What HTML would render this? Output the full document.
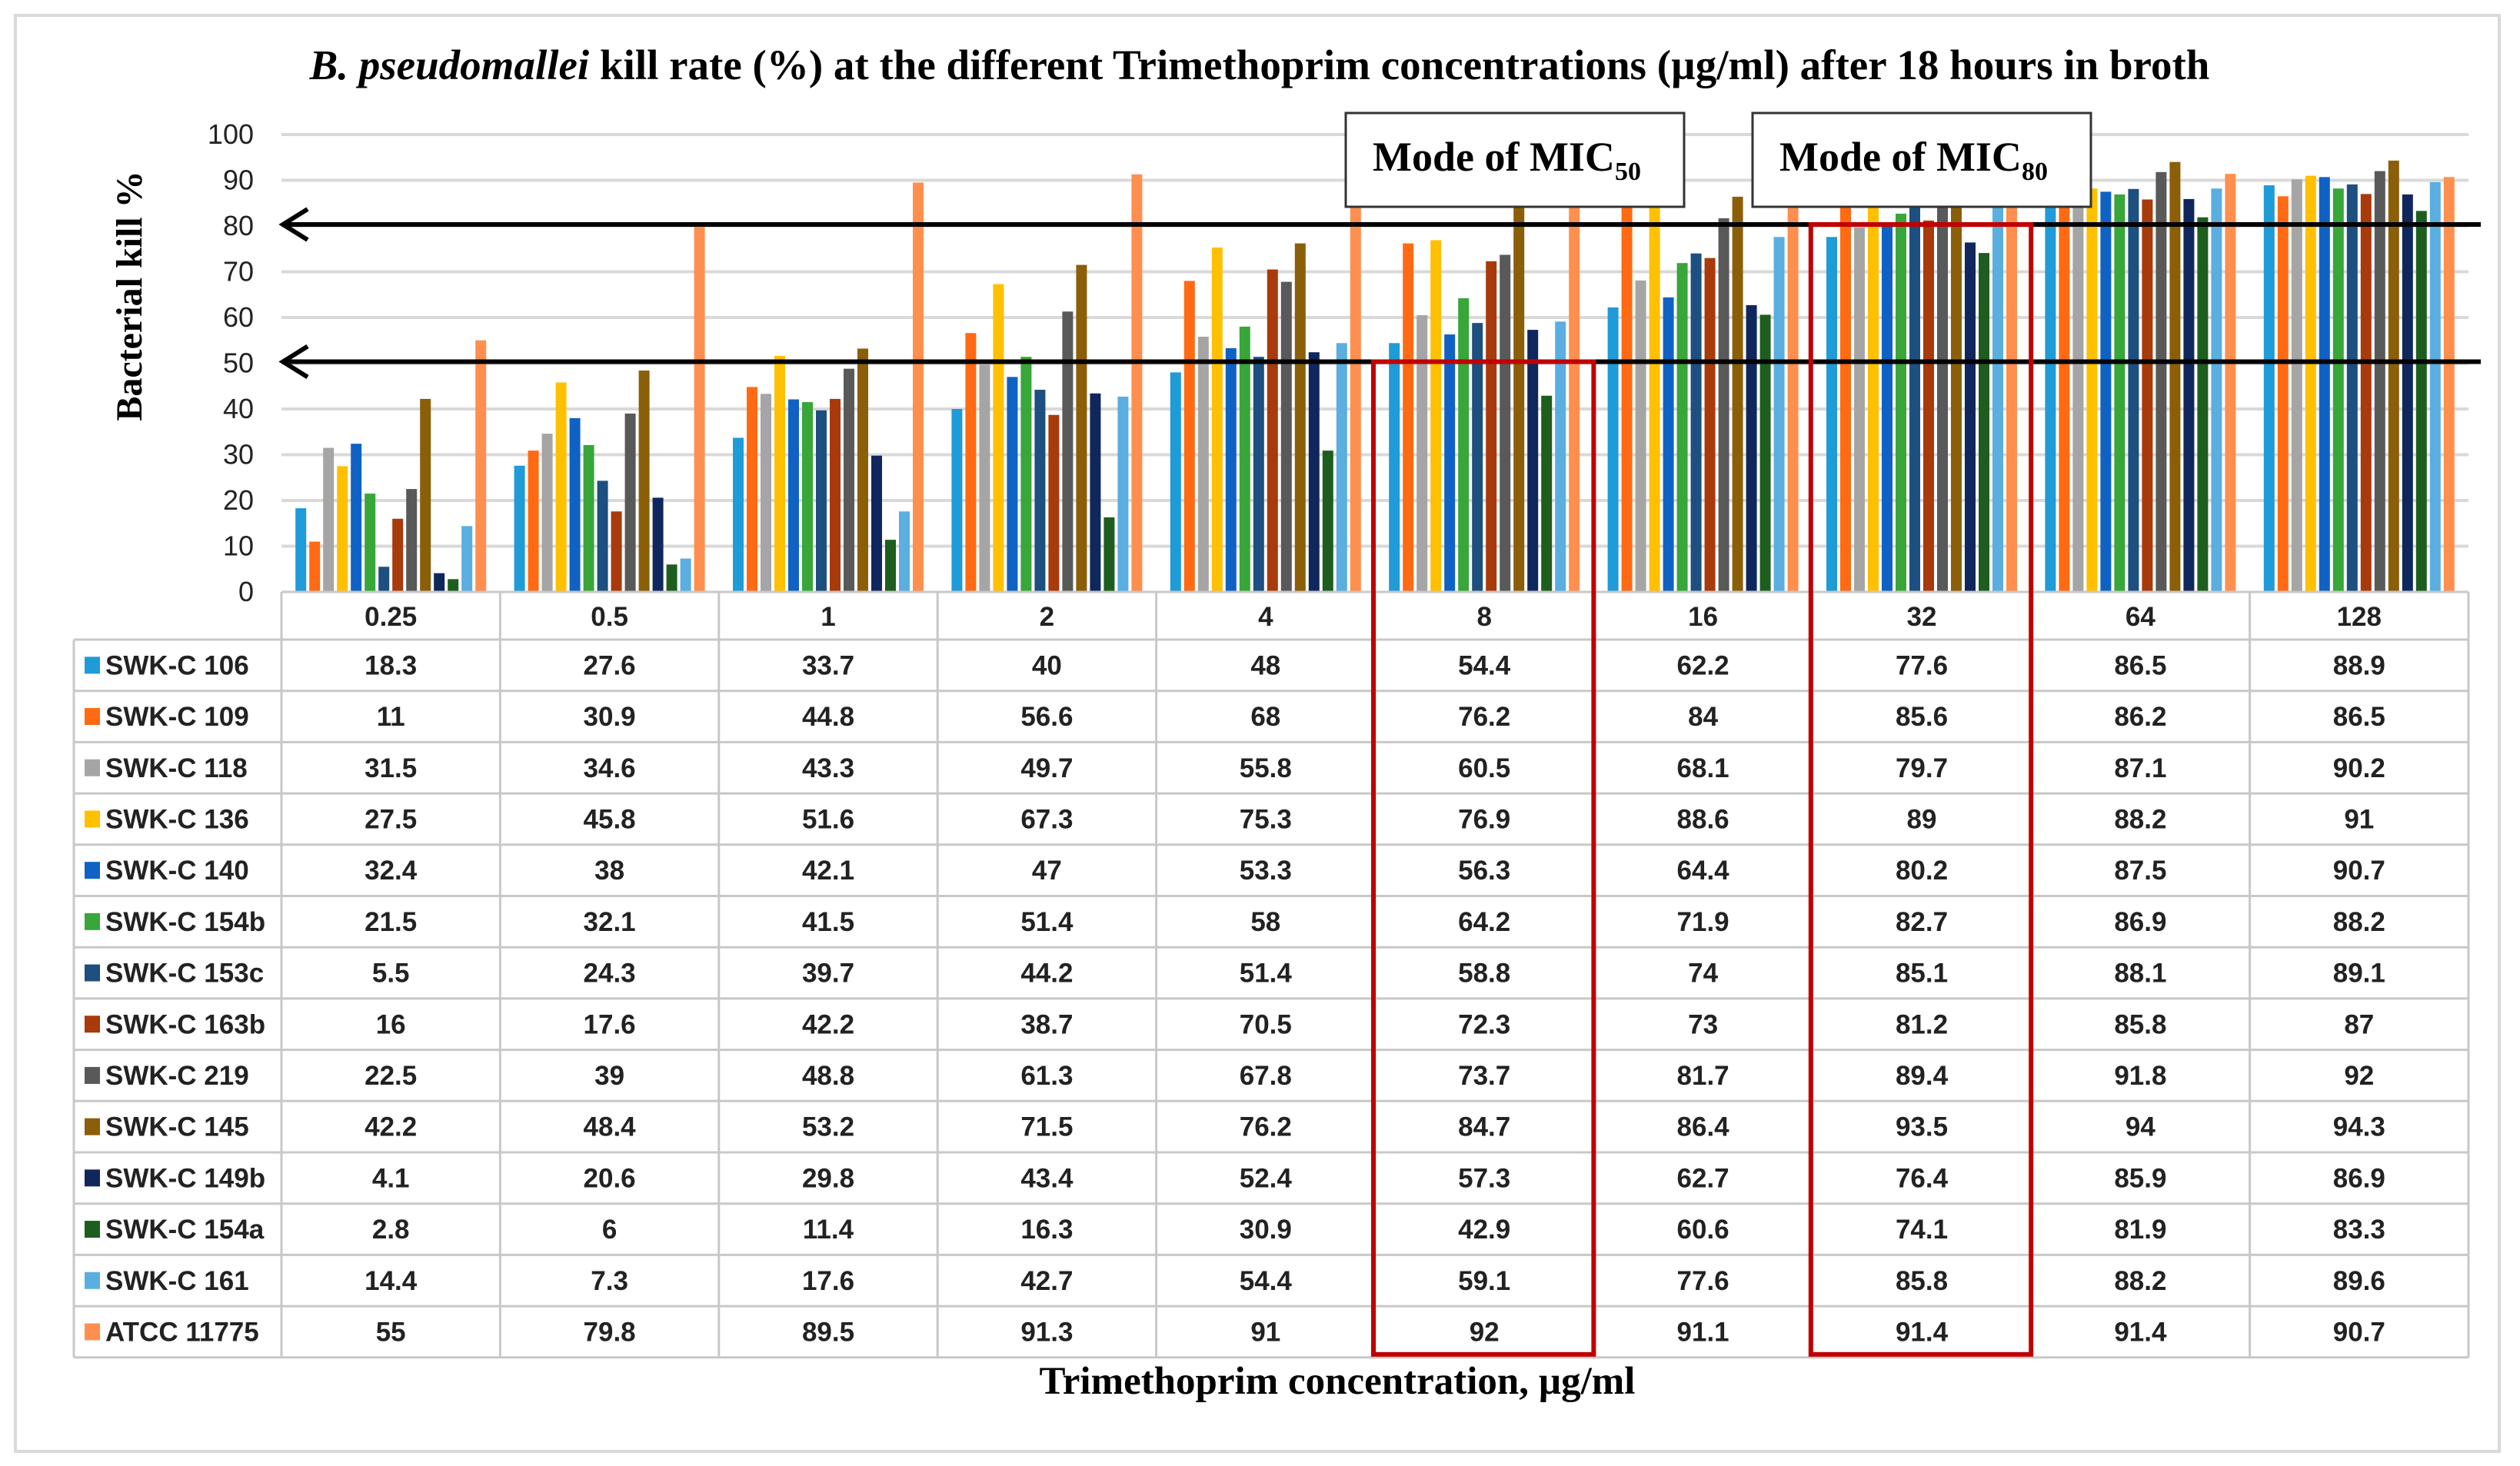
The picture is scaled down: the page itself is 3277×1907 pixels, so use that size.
<!DOCTYPE html>
<html><head><meta charset="utf-8"><style>
html,body{margin:0;padding:0;background:#fff;}
svg{display:block;}
</style></head><body>
<svg id="chart" width="3277" height="1907" viewBox="0 0 3277 1907" xmlns="http://www.w3.org/2000/svg">
<rect x="20" y="20" width="3230" height="1868" fill="#fff" stroke="#d9d9d9" stroke-width="4"/>
<text x="1638" y="103" text-anchor="middle" font-family="Liberation Serif, serif" font-weight="bold" font-size="55"><tspan font-style="italic">B. pseudomallei</tspan> kill rate (%) at the different Trimethoprim concentrations (µg/ml) after 18 hours in broth</text>
<text transform="translate(184,385) rotate(-90)" text-anchor="middle" font-family="Liberation Serif, serif" font-weight="bold" font-size="48">Bacterial kill %</text>
<text x="1739" y="1813" text-anchor="middle" font-family="Liberation Serif, serif" font-weight="bold" font-size="51">Trimethoprim concentration, µg/ml</text>
<g id="grid"></g><g id="bars"></g><g id="table"></g><g id="overlay"></g>
</svg>
<script>
const categories = ["0.25","0.5","1","2","4","8","16","32","64","128"];
const seriesNames = ["SWK-C 106","SWK-C 109","SWK-C 118","SWK-C 136","SWK-C 140","SWK-C 154b","SWK-C 153c","SWK-C 163b","SWK-C 219","SWK-C 145","SWK-C 149b","SWK-C 154a","SWK-C 161","ATCC 11775"];
const seriesColors = ["#1f9bd7","#ff6a13","#a5a5a5","#ffc000","#0f62c4","#38a639","#1d4f80","#a83a0b","#595959","#8b5e08","#10275e","#1d5e1f","#5aaee0","#ff8f4f"];
const s106 = [18.3,27.6,33.7,40,48,54.4,62.2,77.6,86.5,88.9];
const s109 = [11,30.9,44.8,56.6,68,76.2,84,85.6,86.2,86.5];
const s118 = [31.5,34.6,43.3,49.7,55.8,60.5,68.1,79.7,87.1,90.2];
const s136 = [27.5,45.8,51.6,67.3,75.3,76.9,88.6,89,88.2,91];
const s140 = [32.4,38,42.1,47,53.3,56.3,64.4,80.2,87.5,90.7];
const s154b = [21.5,32.1,41.5,51.4,58,64.2,71.9,82.7,86.9,88.2];
const s153c = [5.5,24.3,39.7,44.2,51.4,58.8,74,85.1,88.1,89.1];
const s163b = [16,17.6,42.2,38.7,70.5,72.3,73,81.2,85.8,87];
const s219 = [22.5,39,48.8,61.3,67.8,73.7,81.7,89.4,91.8,92];
const s145 = [42.2,48.4,53.2,71.5,76.2,84.7,86.4,93.5,94,94.3];
const s149b = [4.1,20.6,29.8,43.4,52.4,57.3,62.7,76.4,85.9,86.9];
const s154a = [2.8,6,11.4,16.3,30.9,42.9,60.6,74.1,81.9,83.3];
const s161 = [14.4,7.3,17.6,42.7,54.4,59.1,77.6,85.8,88.2,89.6];
const sATCC = [55,79.8,89.5,91.3,91,92,91.1,91.4,91.4,90.7];
const seriesValues = [s106,s109,s118,s136,s140,s154b,s153c,s163b,s219,s145,s149b,s154a,s161,sATCC];
const yTicks = [0,10,20,30,40,50,60,70,80,90,100];
const mic50Level = 50, mic80Level = 80;
const mic50Cat = 5, mic80Cat = 7;

const NS="http://www.w3.org/2000/svg";
const X0=366, CW=284.4, Y0=770, Y100=175;
const y = v => Y0 - (Y0-Y100)*v/100;
const xc = i => X0 + CW*i;
const HEAD_BOTTOM=832, ROW_H=66.7;
function mk(tag, attrs, parent){const e=document.createElementNS(NS,tag);for(const k in attrs)e.setAttribute(k,attrs[k]);parent.appendChild(e);return e;}
const grid=document.getElementById('grid'), bars=document.getElementById('bars'), table=document.getElementById('table'), ov=document.getElementById('overlay');

yTicks.forEach(t=>{
  if(t>0){const l=mk('line',{x1:X0,x2:3210,y1:y(t),y2:y(t),stroke:'#d9d9d9','stroke-width':4},grid);
  
  }
  const tx=mk('text',{x:330,y:y(t)+12,'text-anchor':'end','font-family':'Liberation Sans, sans-serif','font-size':36,fill:'#222'},grid);
  tx.textContent=t;
  
  
});

const PITCH=18, BW=14;
categories.forEach((c,i)=>{
  const start=xc(i)+(CW-PITCH*seriesNames.length)/2+2;
  seriesValues.forEach((arr,s)=>{
    const v=arr[i];
    const r=mk('rect',{x:start+s*PITCH,y:y(v),width:BW,height:Y0-y(v),fill:seriesColors[s]},bars);
    
    
  });
});

const TG='#c8c8c8';
const tableBottom=HEAD_BOTTOM+ROW_H*seriesNames.length;
mk('line',{x1:X0,x2:3210,y1:Y0,y2:Y0,stroke:TG,'stroke-width':3},table);
for(let i=0;i<=categories.length;i++){
  mk('line',{x1:xc(i),x2:xc(i),y1:Y0,y2:tableBottom,stroke:TG,'stroke-width':3},table);
}
mk('line',{x1:96,x2:96,y1:HEAD_BOTTOM,y2:tableBottom,stroke:TG,'stroke-width':3},table);
for(let r=0;r<=seriesNames.length;r++){
  mk('line',{x1:96,x2:3210,y1:HEAD_BOTTOM+r*ROW_H,y2:HEAD_BOTTOM+r*ROW_H,stroke:TG,'stroke-width':3},table);
}
categories.forEach((c,i)=>{
  const t=mk('text',{x:xc(i)+CW/2,y:Y0+44,'text-anchor':'middle','font-family':'Liberation Sans, sans-serif','font-weight':'bold','font-size':35,fill:'#222'},table);
  t.textContent=c;
  
  
});
seriesNames.forEach((n,s)=>{
  const ry=HEAD_BOTTOM+s*ROW_H;
  const sq=mk('rect',{x:110,y:ry+ROW_H/2-11,width:20,height:22,fill:seriesColors[s]},table);
  
  
  const lt=mk('text',{x:137,y:ry+ROW_H/2+12,'font-family':'Liberation Sans, sans-serif','font-weight':'bold','font-size':35,fill:'#222'},table);
  lt.textContent=n;
  
  
  categories.forEach((c,i)=>{
    const t=mk('text',{x:xc(i)+CW/2,y:ry+ROW_H/2+12,'text-anchor':'middle','font-family':'Liberation Sans, sans-serif','font-weight':'bold','font-size':35,fill:'#222'},table);
    t.textContent=seriesValues[s][i];
    
    
  });
});

[mic80Level,mic50Level].forEach(lv=>{
  const yy=y(lv)-2;
  const g=mk('g',{},ov);
  
  
  mk('line',{x1:368,x2:3226,y1:yy,y2:yy,stroke:'#000','stroke-width':6},g);
  mk('polyline',{points:`${400},${yy-20} ${368},${yy} ${400},${yy+20}`,fill:'none',stroke:'#000','stroke-width':6},g);
});
[[mic50Cat,mic50Level,'mic50-highlight'],[mic80Cat,mic80Level,'mic80-highlight']].forEach(([ci,lv,name])=>{
  const r=mk('rect',{x:xc(ci)-2,y:y(lv)-2,width:CW+2,height:tableBottom-4-(y(lv)-2),fill:'none',stroke:'#c00000','stroke-width':6},ov);
  
  
});
[[1750,'50','mic50-label'],[2279,'80','mic80-label']].forEach(([bx,sub,name])=>{
  const g=mk('g',{},ov);
  
  
  mk('rect',{x:bx,y:147,width:440,height:122,fill:'#fff',stroke:'#333','stroke-width':3},g);
  const t=mk('text',{x:bx+35,y:222,'font-family':'Liberation Serif, serif','font-weight':'bold','font-size':54,fill:'#000'},g);
  t.textContent='Mode of MIC';
  const st=mk('tspan',{'font-size':34,dy:12},t);
  st.textContent=sub;
});
</script>
</body></html>
